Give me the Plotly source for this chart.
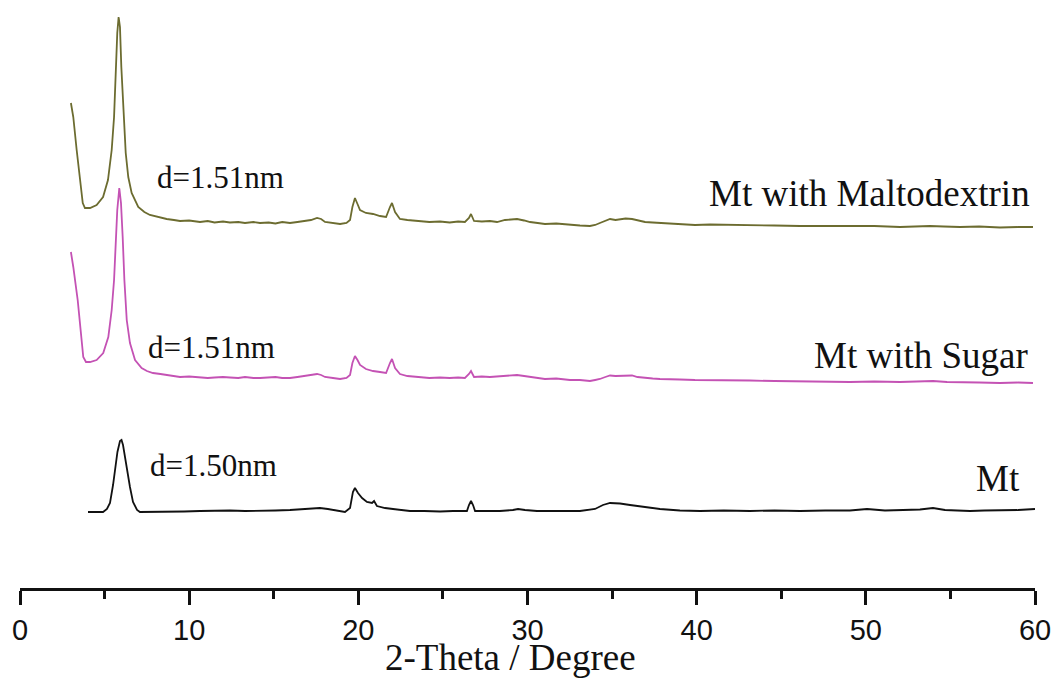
import plotly.graph_objects as go

# ---- data (intensity in arbitrary units, traces already offset) ----
malto_x = [3.01, 3.15, 3.35, 3.55, 3.71, 3.84, 4.14, 4.53, 4.91, 5.20, 5.42, 5.56, 5.66, 5.75, 5.83,
           5.91, 5.99, 6.11, 6.25, 6.40, 6.60, 6.99, 7.35, 7.68, 8.1, 8.67, 9.1, 9.46, 10.0, 10.64, 11.1,
           11.5, 12.0, 12.41, 12.9, 13.3, 13.8, 14.19, 14.7, 15.1, 15.5, 15.96, 16.4, 16.85, 17.2,
           17.56, 17.8, 18.03, 18.5, 18.92, 19.3, 19.51, 19.65, 19.80, 19.95, 20.10, 20.45, 20.87,
           21.28, 21.64, 21.87, 21.99, 22.17, 22.46, 22.9, 23.3, 23.64, 24.2, 24.83, 25.4, 25.9,
           26.30, 26.54, 26.66, 26.84, 27.3, 27.78, 28.2, 28.67, 29.0, 29.38, 29.8, 30.15, 30.6,
           31.03, 31.7, 32.51, 33.1, 33.69, 34.0, 34.28, 34.6, 34.88, 35.2, 35.47, 35.8, 36.18,
           36.5, 36.95, 37.4, 37.83, 38.4, 39.01, 39.9, 40.79, 41.9, 43.15, 44.6, 46.11, 47.5,
           49.06, 50.5, 52.02, 52.9, 53.79, 54.6, 55.57, 56.7, 57.93, 59.0, 59.88]
malto_y = [486, 472, 439, 409, 386, 381, 381, 384, 392, 409, 439, 472, 522, 556, 572,
           562, 522, 479, 436, 412, 396, 382, 377, 374, 372, 370, 369, 368, 368.5, 367, 368,
           366.5, 367.5, 366.5, 367, 366, 367, 366, 366.5, 365.5, 367, 366, 367, 368, 369,
           371, 370, 367, 366, 365, 366, 369, 382, 391, 385, 379, 376, 375,
           373, 372, 382, 386, 377, 370, 369, 368.5, 368, 367, 367.5, 366.5, 367.5,
           367, 371, 375, 368, 367.5, 368, 367, 369, 369.5, 370, 368.5, 367, 366,
           365, 365.5, 364, 363.5, 363, 364, 366, 368.5, 370, 369, 369.5, 370.5, 370,
           368.5, 367, 366.5, 366, 365.5, 365, 364, 364.5, 364, 364, 363.5, 363, 363,
           362.5, 363, 362, 362.5, 363, 362.5, 362, 362.5, 361.5, 362, 362]

sugar_x = [3.01, 3.15, 3.41, 3.55, 3.74, 3.90, 4.14, 4.53, 4.92, 5.22, 5.42, 5.56, 5.66, 5.75, 5.87,
           5.97, 6.07, 6.17, 6.31, 6.50, 6.80, 7.19, 7.5, 7.86, 8.3, 8.67, 9.1, 9.46, 10.0, 10.64, 11.1,
           11.5, 12.0, 12.41, 12.9, 13.3, 13.8, 14.19, 14.7, 15.1, 15.5, 15.96, 16.4, 16.85, 17.2,
           17.56, 17.8, 18.03, 18.5, 18.92, 19.3, 19.51, 19.65, 19.80, 19.95, 20.10, 20.45, 20.87,
           21.28, 21.64, 21.87, 21.99, 22.17, 22.46, 22.9, 23.3, 23.64, 24.2, 24.83, 25.4, 25.9,
           26.30, 26.54, 26.66, 26.84, 27.3, 27.78, 28.2, 28.67, 29.0, 29.38, 29.8, 30.15, 30.6,
           31.03, 31.7, 32.51, 33.1, 33.69, 34.0, 34.28, 34.6, 34.88, 35.2, 35.47, 35.8, 36.18,
           36.5, 36.95, 37.4, 37.83, 38.4, 39.01, 39.9, 40.79, 41.9, 43.15, 44.6, 46.11, 47.5,
           49.06, 50.5, 52.02, 53.0, 53.97, 54.8, 55.57, 56.7, 57.93, 59.0, 59.88]
sugar_y = [337, 322, 289, 262, 232, 227, 227, 229, 236, 252, 279, 309, 342, 379, 401,
           386, 352, 309, 269, 246, 229, 221, 218, 216, 215, 214, 213, 212, 212.5, 212, 211,
           211.5, 212, 211.5, 211, 212, 211, 211, 211.5, 212, 211, 211, 212, 213, 214,
           215, 214, 212, 211, 210, 211, 214, 226, 233, 229, 224, 220, 218,
           217, 216, 226, 230, 221, 215, 213, 212.5, 212, 211, 211.5, 211, 211.5,
           211, 215, 218, 212, 212.5, 212, 212.5, 213, 213.5, 214, 213, 212, 211,
           210, 210.5, 209, 209, 208, 209, 210, 212, 213.5, 213, 213, 213.5, 213.5,
           212, 211, 210.5, 210, 210, 209.5, 209, 209, 209, 208.5, 208, 207.5, 207.5,
           207, 207.5, 207, 207.5, 208, 207, 206.5, 206.5, 206, 206.5, 206]

mt_x = [4.02, 4.91, 5.14, 5.32, 5.50, 5.62, 5.76, 5.91, 6.00, 6.09, 6.21, 6.32, 6.50, 6.68, 6.92,
        7.09, 8.0, 8.87, 9.7, 10.64, 11.5, 12.41, 13.3, 14.19, 15.1, 15.96, 16.85, 17.3, 17.73,
        18.2, 18.62, 19.21, 19.51, 19.68, 19.80, 19.98, 20.22, 20.51, 20.81, 20.93, 21.10, 21.58,
        22.05, 22.5, 23.05, 23.9, 24.83, 25.6, 26.42, 26.54, 26.66, 26.78, 26.90, 27.6, 28.37,
        29.14, 29.44, 29.85, 30.56, 31.8, 33.10, 33.99, 34.46, 34.88, 35.47, 36.06, 36.95, 37.83,
        39.01, 40.20, 41.6, 43.15, 44.6, 46.11, 47.6, 49.06, 50.07, 51.13, 52.2, 53.20, 53.97,
        54.68, 55.4, 56.16, 57.0, 57.93, 59.0, 60.00]
mt_y = [77, 77, 80, 86, 104, 119, 137, 148, 149, 144, 131, 119, 102, 87, 79,
        77, 77, 77, 77.5, 78, 78.5, 78.5, 78, 78, 78.5, 79, 80, 80.5, 81,
        80, 79, 77, 81, 97, 101, 96, 91, 87, 86, 88, 83, 81,
        80, 79, 78, 78, 77.5, 78, 78, 84, 88, 84, 78, 78, 78,
        79, 80, 79, 78, 78, 78, 80, 84, 86, 85.5, 84, 82, 80,
        78.5, 78, 78.5, 78, 78.5, 78, 78.5, 78.5, 80, 78.5, 79, 79.5, 81,
        79, 78.5, 78, 78.5, 78.5, 79, 80]

x_ticks = [0, 10, 20, 30, 40, 50, 60]
tick_labels = ["0", "10", "20", "30", "40", "50", "60"]

series_names = ["Mt with Maltodextrin", "Mt with Sugar", "Mt"]
series_colors = ["#6c6c30", "#c452b4", "#111111"]
d_labels = ["d=1.51nm", "d=1.51nm", "d=1.50nm"]

fig = go.Figure()
for xs, ys, name, col in zip([malto_x, sugar_x, mt_x], [malto_y, sugar_y, mt_y],
                             series_names, series_colors):
    fig.add_trace(go.Scatter(x=xs, y=ys, mode="lines", name=name,
                             line=dict(color=col, width=1.8), showlegend=False))

serif = "Liberation Serif, Times New Roman, serif"

# series names (right side)
name_pos = [(59.80, 396), (59.69, 234), (59.21, 111)]
for (ax, ay), txt in zip(name_pos, series_names):
    fig.add_annotation(x=ax, y=ay, text=txt, showarrow=False, xanchor="right", yanchor="middle",
                       font=dict(family=serif, size=37, color="#111111"))

# d-spacing labels
d_pos = [(8.00, 412), (7.47, 242), (7.58, 124)]
for (ax, ay), txt in zip(d_pos, d_labels):
    fig.add_annotation(x=ax, y=ay, text=txt, showarrow=False, xanchor="left", yanchor="middle",
                       font=dict(family=serif, size=31, color="#111111"))

# axis title
fig.add_annotation(x=28.97, y=-0.12, xref="x", yref="paper", text="2-Theta / Degree",
                   showarrow=False, xanchor="center", yanchor="middle",
                   font=dict(family=serif, size=37, color="#111111"))

fig.update_layout(
    width=1055, height=678,
    margin=dict(l=20, r=20, t=9, b=90),
    paper_bgcolor="white", plot_bgcolor="white",
    xaxis=dict(range=[0, 60], showgrid=False, zeroline=False, automargin=False,
               showline=True, linecolor="#111111", linewidth=2.5,
               ticks="outside", ticklen=14, tickwidth=2.5, tickcolor="#111111",
               tickvals=x_ticks, ticktext=tick_labels, ticklabelstandoff=0,
               tickfont=dict(family="Liberation Sans, Arial, sans-serif", size=29, color="#111111"),
               minor=dict(dtick=5, tick0=0, ticks="outside", ticklen=8, tickwidth=2.5,
                          tickcolor="#111111", showgrid=False)),
    yaxis=dict(range=[1, 580], visible=False, showgrid=False, zeroline=False, automargin=False),
)

# remove the page's default body margin so the figure fills the window exactly
fig.write_html("out.html", config={"displayModeBar": False},
               post_script="document.body.style.margin='0';document.body.style.overflow='hidden';")
